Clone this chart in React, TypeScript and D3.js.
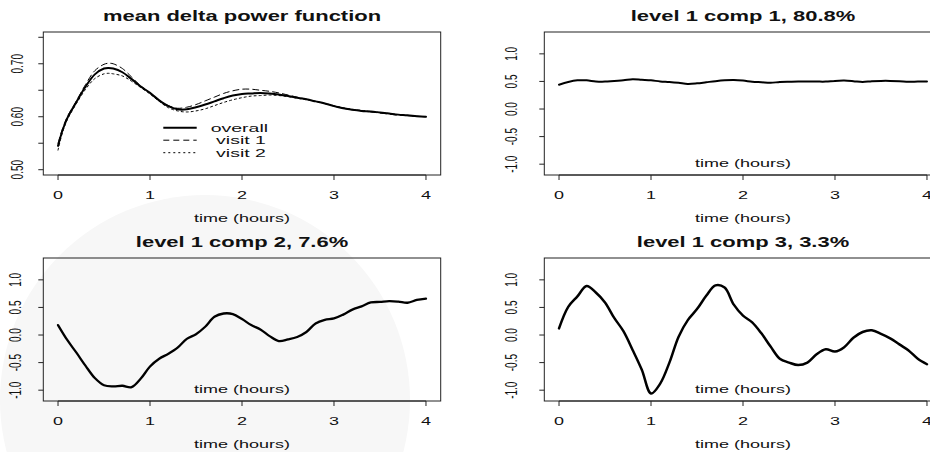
import React from "react";
import * as d3 from "d3";

// ---------- data ----------
const meanTimes = [0, 0.05, 0.1, 0.15, 0.2, 0.3, 0.4, 0.5, 0.55, 0.6, 0.7, 0.8, 0.9, 1.0, 1.1, 1.2, 1.3, 1.4, 1.5, 1.6, 1.7, 1.8, 1.9, 2.0, 2.1, 2.2, 2.3, 2.4, 2.5, 2.6, 2.7, 2.8, 2.9, 3.0, 3.1, 3.2, 3.3, 3.4, 3.5, 3.6, 3.7, 3.8, 3.9, 4.0];
const meanOverall = [0.545, 0.575, 0.597, 0.613, 0.628, 0.657, 0.680, 0.691, 0.692, 0.691, 0.684, 0.671, 0.657, 0.645, 0.631, 0.620, 0.614, 0.614, 0.618, 0.623, 0.629, 0.635, 0.640, 0.643, 0.644, 0.645, 0.644, 0.642, 0.639, 0.636, 0.633, 0.629, 0.625, 0.620, 0.616, 0.613, 0.611, 0.610, 0.608, 0.606, 0.604, 0.603, 0.601, 0.600];
const meanVisit1 = [0.550, 0.578, 0.600, 0.615, 0.630, 0.661, 0.687, 0.699, 0.701, 0.700, 0.691, 0.675, 0.658, 0.645, 0.631, 0.621, 0.616, 0.618, 0.623, 0.630, 0.637, 0.644, 0.649, 0.652, 0.652, 0.650, 0.648, 0.645, 0.641, 0.637, 0.633, 0.629, 0.625, 0.620, 0.616, 0.613, 0.611, 0.609, 0.607, 0.605, 0.603, 0.602, 0.601, 0.600];
const meanVisit2 = [0.537, 0.571, 0.594, 0.610, 0.625, 0.652, 0.672, 0.681, 0.682, 0.681, 0.677, 0.667, 0.655, 0.643, 0.629, 0.617, 0.611, 0.609, 0.611, 0.615, 0.621, 0.627, 0.632, 0.636, 0.639, 0.640, 0.641, 0.640, 0.638, 0.635, 0.632, 0.629, 0.625, 0.621, 0.617, 0.614, 0.612, 0.610, 0.608, 0.606, 0.604, 0.602, 0.601, 0.600];

const compTimes = [0, 0.1, 0.2, 0.3, 0.4, 0.5, 0.6, 0.7, 0.8, 0.9, 1.0, 1.1, 1.2, 1.3, 1.4, 1.5, 1.6, 1.7, 1.8, 1.9, 2.0, 2.1, 2.2, 2.3, 2.4, 2.5, 2.6, 2.7, 2.8, 2.9, 3.0, 3.1, 3.2, 3.3, 3.4, 3.5, 3.6, 3.7, 3.8, 3.9, 4.0];
const comp1 = [0.44, 0.49, 0.52, 0.52, 0.50, 0.497, 0.51, 0.52, 0.54, 0.53, 0.52, 0.50, 0.49, 0.475, 0.455, 0.465, 0.485, 0.505, 0.52, 0.525, 0.515, 0.495, 0.485, 0.475, 0.49, 0.495, 0.497, 0.497, 0.497, 0.497, 0.51, 0.515, 0.505, 0.49, 0.505, 0.51, 0.51, 0.505, 0.495, 0.497, 0.497];
const comp2 = [0.18, -0.09, -0.32, -0.56, -0.78, -0.91, -0.93, -0.92, -0.945, -0.79, -0.57, -0.43, -0.34, -0.23, -0.07, 0.015, 0.15, 0.33, 0.39, 0.38, 0.29, 0.18, 0.10, -0.02, -0.11, -0.08, -0.035, 0.055, 0.21, 0.275, 0.30, 0.37, 0.46, 0.52, 0.59, 0.60, 0.615, 0.605, 0.585, 0.635, 0.66];
const comp3 = [0.12, 0.51, 0.70, 0.89, 0.77, 0.59, 0.31, 0.07, -0.27, -0.63, -1.06, -0.88, -0.50, -0.03, 0.27, 0.47, 0.71, 0.90, 0.86, 0.55, 0.35, 0.23, 0.03, -0.21, -0.43, -0.50, -0.545, -0.50, -0.35, -0.26, -0.30, -0.22, -0.05, 0.055, 0.085, 0.02, -0.06, -0.17, -0.28, -0.43, -0.53];

const panelTitles = ["mean delta power function", "level 1 comp 1, 80.8%", "level 1 comp 2, 7.6%", "level 1 comp 3, 3.3%"];
const xTicks = [0, 1, 2, 3, 4];
const meanYTicks = [0.5, 0.55, 0.6, 0.65, 0.7, 0.75];
const meanYLabels = ["0.50", "", "0.60", "", "0.70", ""];
const compYTicks = [-1, -0.5, 0, 0.5, 1];
const compYLabels = ["-1.0", "-0.5", "0.0", "0.5", "1.0"];
const legendLabels = ["overall", " visit 1", " visit 2"];
const xLabel = "time (hours)";

// ---------- layout ----------
const W = 930;
const H = 452;
const FONT = '"Liberation Sans", Arial, Helvetica, sans-serif';
const BOX = { left: 43.3, right: 440.7, top: 32, bottom: 175 };
const INK = "#111";

type Series = { t: number[]; v: number[]; dash?: string; width: number };

function Panel(props: {
  ox: number;
  oy: number;
  title: string;
  yDomain: [number, number];
  yTicks: number[];
  yLabels: string[];
  yLabelX: number;
  series: Series[];
  inside: boolean;
  legend?: boolean;
}) {
  const { ox, oy, title, yDomain, yTicks, yLabels, yLabelX, series, inside, legend } = props;
  const x = d3.scaleLinear().domain([-0.16, 4.16]).range([BOX.left, BOX.right]);
  const y = d3.scaleLinear().domain(yDomain).range([BOX.bottom, BOX.top]);
  const line = (s: Series) =>
    d3
      .line<number>()
      .x((_, i) => x(s.t[i]))
      .y((d) => y(d))
      .curve(d3.curveCatmullRom.alpha(0.5))(s.v) || "";
  const cx = (BOX.left + BOX.right) / 2;
  return (
    <g transform={`translate(${ox},${oy})`}>
      <text
        transform={`translate(${cx},20.7) scale(1.57,1)`}
        textAnchor="middle"
        fontFamily={FONT}
        fontWeight="bold"
        fontSize={14}
        fill={INK}
      >
        {title}
      </text>
      <rect
        x={BOX.left}
        y={BOX.top}
        width={BOX.right - BOX.left}
        height={BOX.bottom - BOX.top}
        fill="none"
        stroke="#222"
        strokeWidth={1}
      />
      {/* x axis */}
      <line x1={x(xTicks[0])} x2={x(xTicks[xTicks.length - 1])} y1={BOX.bottom} y2={BOX.bottom} stroke="#222" />
      {xTicks.map((t) => (
        <g key={"xt" + t}>
          <line x1={x(t)} x2={x(t)} y1={BOX.bottom} y2={BOX.bottom + 5} stroke="#222" />
          <text
            transform={`translate(${x(t)},198.5) scale(1.8,1)`}
            textAnchor="middle"
            fontFamily={FONT}
            fontSize={10}
            fill={INK}
          >
            {t}
          </text>
        </g>
      ))}
      <text
        transform={`translate(${cx},222.3) scale(1.8,1)`}
        textAnchor="middle"
        fontFamily={FONT}
        fontSize={10}
        fill={INK}
      >
        {xLabel}
      </text>
      {inside && (
        <text
          transform={`translate(${x(2)},166.5) scale(1.8,1)`}
          textAnchor="middle"
          fontFamily={FONT}
          fontSize={10}
          fill={INK}
        >
          {xLabel}
        </text>
      )}
      {/* y axis */}
      {yTicks.map((v, i) => (
        <g key={"yt" + i}>
          <line x1={BOX.left - 5} x2={BOX.left} y1={y(v)} y2={y(v)} stroke="#222" />
          {yLabels[i] && (
            <text
              transform={`translate(${yLabelX},${y(v)}) scale(1.7,1) rotate(-90)`}
              textAnchor="middle"
              fontFamily={FONT}
              fontSize={10}
              fill={INK}
            >
              {yLabels[i]}
            </text>
          )}
        </g>
      ))}
      {series.map((s, i) => (
        <path
          key={"s" + i}
          d={line(s)}
          fill="none"
          stroke="#000"
          strokeWidth={s.width}
          strokeDasharray={s.dash}
          strokeLinejoin="round"
          strokeLinecap="round"
        />
      ))}
      {legend &&
        legendLabels.map((lab, i) => (
          <g key={"lg" + i}>
            <line
              x1={163.3}
              x2={196.7}
              y1={127.7 + i * 12.5}
              y2={127.7 + i * 12.5}
              stroke="#000"
              strokeWidth={series[i].width}
              strokeDasharray={series[i].dash}
            />
            <text
              transform={`translate(210.7,${131.5 + i * 12.5}) scale(1.95,1)`}
              fontFamily={FONT}
              fontSize={10}
              fill={INK}
              style={{ whiteSpace: "pre" }}
            >
              {lab}
            </text>
          </g>
        ))}
    </g>
  );
}

export default function App() {
  const compDomain: [number, number] = [-1.196, 1.396];
  return (
    <svg
      width={W}
      height={H}
      style={{ position: "absolute", left: 0, top: 0, background: "#fff" }}
    >
      <rect width={W} height={H} fill="#fff" />
      {/* faint background watermark */}
      <circle cx={205} cy={400} r={205} fill="#f7f7f7" />
      <Panel
        ox={0}
        oy={0}
        title={panelTitles[0]}
        yDomain={[0.49, 0.76]}
        yTicks={meanYTicks}
        yLabels={meanYLabels}
        yLabelX={23.3}
        inside={false}
        legend
        series={[
          { t: meanTimes, v: meanOverall, width: 2 },
          { t: meanTimes, v: meanVisit1, width: 1, dash: "6,4" },
          { t: meanTimes, v: meanVisit2, width: 1, dash: "2,3" },
        ]}
      />
      <Panel
        ox={501}
        oy={0}
        title={panelTitles[1]}
        yDomain={compDomain}
        yTicks={compYTicks}
        yLabels={compYLabels}
        yLabelX={16}
        inside
        series={[{ t: compTimes, v: comp1, width: 2 }]}
      />
      <Panel
        ox={0}
        oy={226}
        title={panelTitles[2]}
        yDomain={compDomain}
        yTicks={compYTicks}
        yLabels={compYLabels}
        yLabelX={21}
        inside
        series={[{ t: compTimes, v: comp2, width: 2.3 }]}
      />
      <Panel
        ox={501}
        oy={226}
        title={panelTitles[3]}
        yDomain={compDomain}
        yTicks={compYTicks}
        yLabels={compYLabels}
        yLabelX={16}
        inside
        series={[{ t: compTimes, v: comp3, width: 2.5 }]}
      />
    </svg>
  );
}
